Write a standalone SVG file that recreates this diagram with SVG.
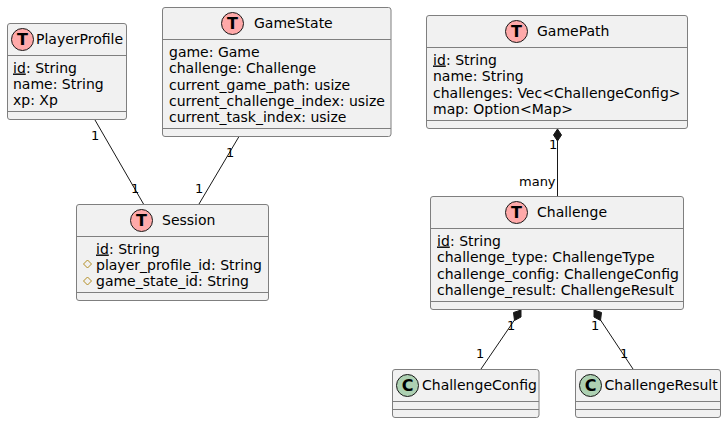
<svg xmlns="http://www.w3.org/2000/svg" width="726" height="423" viewBox="0 0 726 423">
<style>
text{font-family:"DejaVu Sans",sans-serif;font-size:14px;fill:#000}
.lbl{font-size:13px}
.box{fill:#F1F1F1;stroke:#7f7f7f;stroke-width:1}
.sep{stroke:#7f7f7f;stroke-width:1;fill:none}
.c{stroke:#181818;stroke-width:1}
.t{fill:#ADD1B2;stroke:#181818;stroke-width:1}
.t.r{fill:#FFA9A9}
.g{font-size:16px;font-weight:bold;text-anchor:middle}
.e{fill:#181818;stroke:#181818;stroke-width:1}
.d{fill:none;stroke:#B38D22;stroke-width:1}
</style>
<g id="connectors">
<line class="c" x1="95" y1="120" x2="143.500" y2="204"/>
<line class="c" x1="239" y1="136.500" x2="199" y2="204"/>
<line class="c" x1="557.500" y1="141" x2="557.500" y2="196"/>
<path class="e" d="M557.500 129L561.500 135L557.500 141L553.500 135Z"/>
<line class="c" x1="514.500" y1="320" x2="481" y2="369"/>
<path class="e" d="M521 310L521 317L514.500 320.500L513.500 312.500Z"/>
<line class="c" x1="600.500" y1="320" x2="633" y2="369"/>
<path class="e" d="M594 310L601.500 312.500L600.500 320.500L594 317Z"/>
<text class="lbl" x="91" y="139.500">1</text>
<text class="lbl" x="131" y="193">1</text>
<text class="lbl" x="226" y="156.500">1</text>
<text class="lbl" x="195" y="193">1</text>
<text class="lbl" x="549" y="148.500">1</text>
<text class="lbl" x="519" y="185.500">many</text>
<text class="lbl" x="507" y="329.500">1</text>
<text class="lbl" x="476" y="358">1</text>
<text class="lbl" x="591" y="329.500">1</text>
<text class="lbl" x="620" y="358">1</text>
</g>
<g id="PlayerProfile">
<rect class="box" x="7.500" y="23.500" width="119" height="96" rx="2.500"/>
<line class="sep" x1="7.500" y1="55.500" x2="126.500" y2="55.500"/>
<line class="sep" x1="7.500" y1="111.500" x2="126.500" y2="111.500"/>
<circle class="t r" cx="22.500" cy="39.500" r="11"/>
<text class="g" x="22.500" y="45">T</text>
<text x="36" y="44">PlayerProfile</text>
<text x="13" y="72.500" text-decoration="underline">id</text><text x="26" y="72.500">: String</text>
<text x="13" y="88.500">name: String</text>
<text x="13" y="105">xp: Xp</text>
</g>
<g id="GameState">
<rect class="box" x="162.500" y="7.500" width="228.500" height="129" rx="2.500"/>
<line class="sep" x1="162.500" y1="39.500" x2="391" y2="39.500"/>
<line class="sep" x1="162.500" y1="128.500" x2="391" y2="128.500"/>
<circle class="t r" cx="232.500" cy="23.500" r="11"/>
<text class="g" x="232.500" y="29">T</text>
<text x="254" y="28">GameState</text>
<text x="169" y="56.500">game: Game</text>
<text x="169" y="72.500">challenge: Challenge</text>
<text x="169" y="89.500">current_game_path: usize</text>
<text x="169" y="105.500">current_challenge_index: usize</text>
<text x="169" y="122">current_task_index: usize</text>
</g>
<g id="Session">
<rect class="box" x="76.500" y="204.500" width="192" height="96" rx="2.500"/>
<line class="sep" x1="76.500" y1="236.500" x2="268.500" y2="236.500"/>
<line class="sep" x1="76.500" y1="292.500" x2="268.500" y2="292.500"/>
<circle class="t r" cx="141.500" cy="220.500" r="11"/>
<text class="g" x="141.500" y="226">T</text>
<text x="162" y="225">Session</text>
<text x="96" y="253.500" text-decoration="underline">id</text><text x="109" y="253.500">: String</text>
<path class="d" d="M87.500 260L91.500 264L87.500 268L83.500 264Z"/>
<text x="96" y="269.500">player_profile_id: String</text>
<path class="d" d="M87.500 277L91.500 281L87.500 285L83.500 281Z"/>
<text x="96" y="286">game_state_id: String</text>
</g>
<g id="GamePath">
<rect class="box" x="426.500" y="15.500" width="261" height="113" rx="2.500"/>
<line class="sep" x1="426.500" y1="47.500" x2="687.500" y2="47.500"/>
<line class="sep" x1="426.500" y1="120.500" x2="687.500" y2="120.500"/>
<circle class="t r" cx="516.500" cy="31.500" r="11"/>
<text class="g" x="516.500" y="37">T</text>
<text x="537" y="36">GamePath</text>
<text x="433" y="64.500" text-decoration="underline">id</text><text x="446" y="64.500">: String</text>
<text x="433" y="80.500">name: String</text>
<text x="433" y="97.500">challenges: Vec&lt;ChallengeConfig&gt;</text>
<text x="433" y="113.500">map: Option&lt;Map&gt;</text>
</g>
<g id="Challenge">
<rect class="box" x="430.500" y="196.500" width="253" height="113" rx="2.500"/>
<line class="sep" x1="430.500" y1="228.500" x2="683.500" y2="228.500"/>
<line class="sep" x1="430.500" y1="301.500" x2="683.500" y2="301.500"/>
<circle class="t r" cx="516.500" cy="212.500" r="11"/>
<text class="g" x="516.500" y="218">T</text>
<text x="537" y="217">Challenge</text>
<text x="437" y="245.500" text-decoration="underline">id</text><text x="450" y="245.500">: String</text>
<text x="437" y="261.500">challenge_type: ChallengeType</text>
<text x="437" y="278.500">challenge_config: ChallengeConfig</text>
<text x="437" y="294.500">challenge_result: ChallengeResult</text>
</g>
<g id="ChallengeConfig">
<rect class="box" x="392.500" y="369.500" width="146.500" height="48" rx="2.500"/>
<line class="sep" x1="392.500" y1="401.500" x2="539" y2="401.500"/>
<line class="sep" x1="392.500" y1="409.500" x2="539" y2="409.500"/>
<circle class="t" cx="407.500" cy="385.500" r="11"/>
<text class="g" x="407.500" y="391">C</text>
<text x="422" y="390">ChallengeConfig</text>
</g>
<g id="ChallengeResult">
<rect class="box" x="575.500" y="369.500" width="145" height="48" rx="2.500"/>
<line class="sep" x1="575.500" y1="401.500" x2="720.500" y2="401.500"/>
<line class="sep" x1="575.500" y1="409.500" x2="720.500" y2="409.500"/>
<circle class="t" cx="590.500" cy="385.500" r="11"/>
<text class="g" x="590.500" y="391">C</text>
<text x="604.500" y="390">ChallengeResult</text>
</g>
</svg>
